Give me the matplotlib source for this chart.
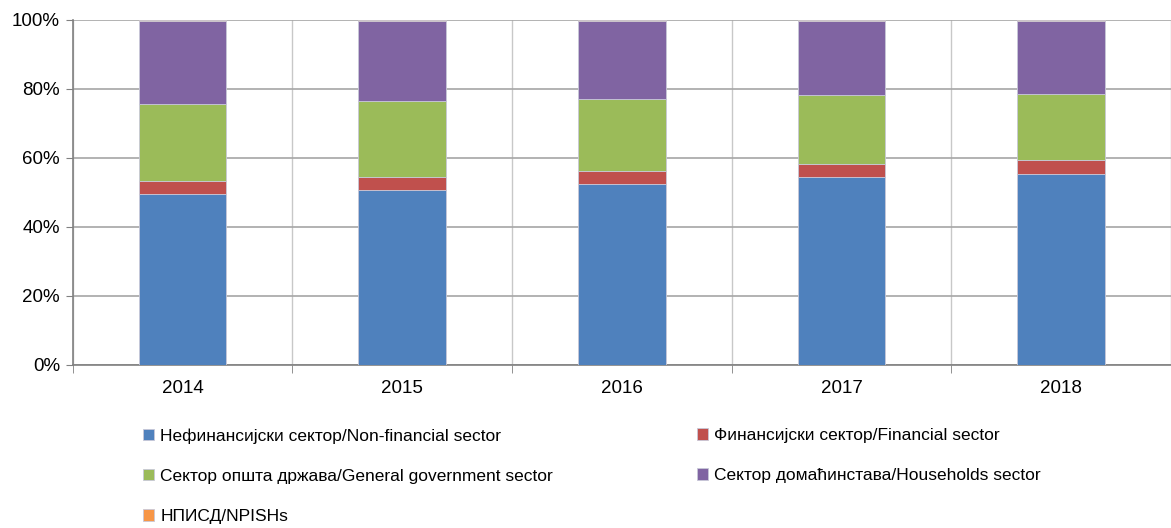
import matplotlib.pyplot as plt
from matplotlib import font_manager
import numpy as np

years = ['2014', '2015', '2016', '2017', '2018']
nonfin = [49.4, 50.5, 52.5, 54.4, 55.3]
fin = [3.7, 3.8, 3.5, 3.9, 3.9]
gov = [22.5, 22.0, 21.0, 19.9, 19.2]
house = [23.9, 23.2, 22.5, 21.3, 21.1]
npish = [0.5, 0.5, 0.5, 0.5, 0.5]

labels = ['Нефинансијски сектор/Non-financial sector',
          'Финансијски сектор/Financial sector',
          'Сектор општа држава/General government sector',
          'Сектор домаћинстава/Households sector',
          'НПИСД/NPISHs']
colors = ['#4f81bd', '#c0504d', '#9bbb59', '#8064a2', '#f79646']

names = {f.name for f in font_manager.fontManager.ttflist}
fam, fs = 'Liberation Sans', 12.5
for cand, size in [('Liberation Sans Narrow', 14), ('DejaVu Sans Condensed', 12.5)]:
    if cand in names:
        fam, fs = cand, size
        break
plt.rcParams['font.family'] = [fam, 'DejaVu Sans']

fig = plt.figure(figsize=(11.71, 5.28), dpi=100)
ax = fig.add_axes([0.062, 0.309, 0.938, 0.654])

x = np.arange(len(years))
bottom = np.zeros(len(years))
for vals, lab, col in zip([nonfin, fin, gov, house, npish], labels, colors):
    ax.bar(x, vals, width=0.4, bottom=bottom, color=col, label=lab,
           edgecolor='#c8c8d8', linewidth=0.6, zorder=3)
    bottom += np.array(vals)

ax.set_xlim(-0.5, len(years) - 0.5)
ax.set_ylim(0, 100)
ax.set_yticks(range(0, 101, 20))
ax.set_yticklabels([f'{v}%' for v in range(0, 101, 20)])
ax.set_xticks(x)
ax.set_xticklabels(years)
ax.set_xticks(np.arange(-0.5, len(years)), minor=True)
ax.tick_params(axis='x', which='major', length=0, pad=11, labelsize=fs + 1)
ax.tick_params(axis='x', which='minor', length=6, color='#808080', direction='out')
ax.tick_params(axis='y', length=5, color='#808080', labelsize=fs + 1, pad=4)

ax.grid(axis='y', color='#a6a6a6', linewidth=1.2, zorder=0)
ax.grid(axis='x', which='minor', color='#c8c8c8', linewidth=1.0, zorder=0)
for s in ['top', 'right']:
    ax.spines[s].set_visible(False)
for s in ['left', 'bottom']:
    ax.spines[s].set_color('#808080')
    ax.spines[s].set_linewidth(1.2)

handles, labs = ax.get_legend_handles_labels()
kw = dict(frameon=False, fontsize=fs, handlelength=0.65, handleheight=0.65,
          handletextpad=0.35, labelspacing=1.45, borderaxespad=0, borderpad=0,
          loc='upper left')
fig.legend([handles[i] for i in (0, 2, 4)], [labs[i] for i in (0, 2, 4)],
           bbox_to_anchor=(143 / 1171, 1 - 428 / 528), **kw)
fig.legend([handles[i] for i in (1, 3)], [labs[i] for i in (1, 3)],
           bbox_to_anchor=(697 / 1171, 1 - 428 / 528), **kw)

fig.savefig('out.png', dpi=100)
